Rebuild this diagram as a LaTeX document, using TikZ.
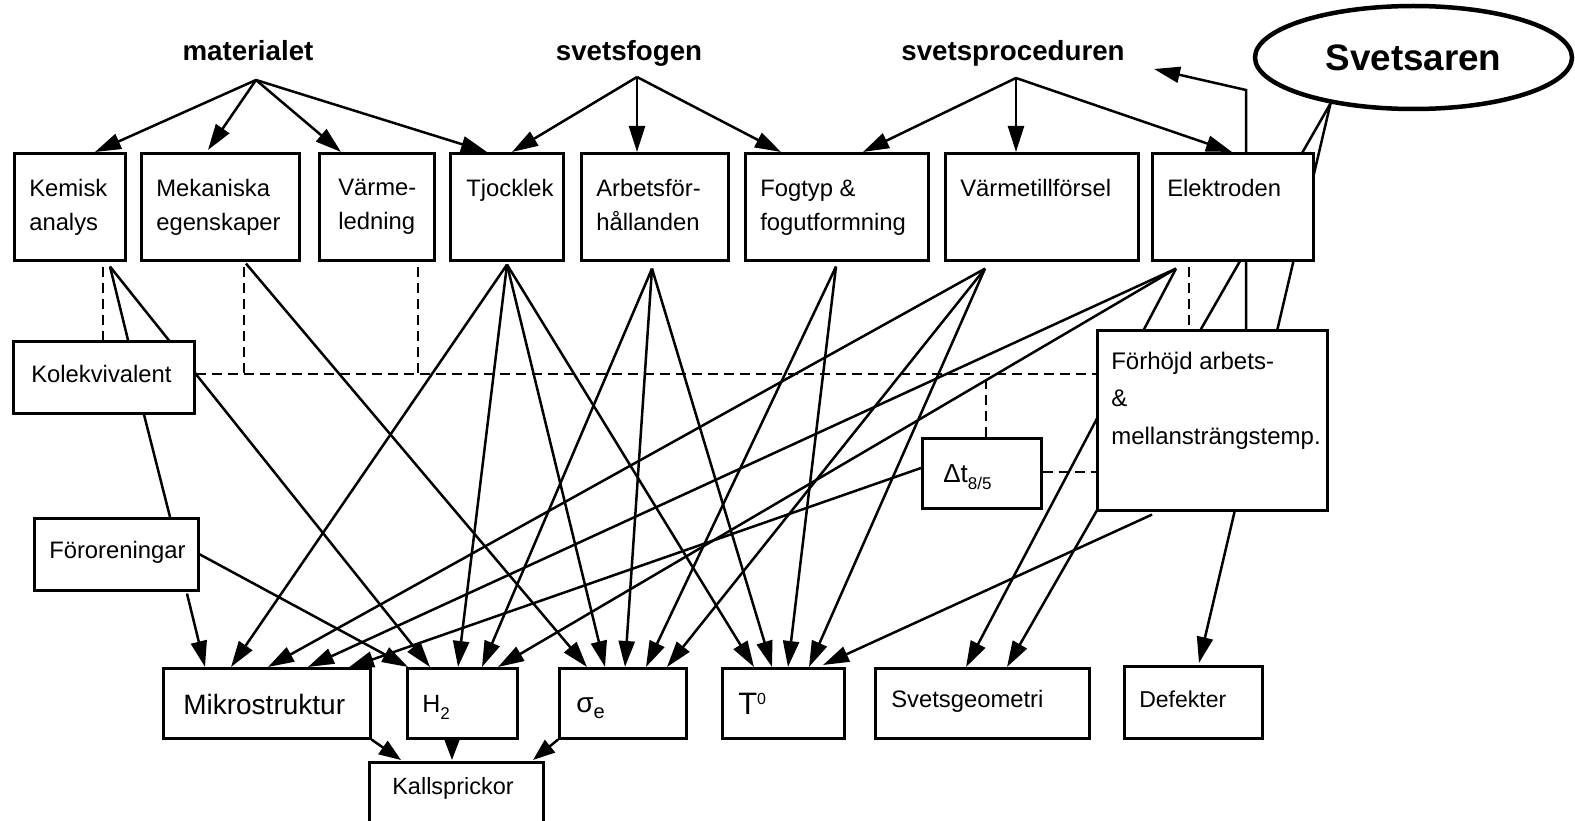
\documentclass[tikz,border=0pt]{standalone}
\usepackage{fontspec}
\setmainfont{Liberation Sans}
\usetikzlibrary{arrows.meta,calc,backgrounds,shapes.geometric}
\newcommand\bt[5]{\parbox[b][#2][t]{#1}{\raggedright\leftskip=#3\relax\rule{0pt}{#4}#5\par}}
\tikzset{
 box/.style={draw, line width=2.6pt, fill=white, inner sep=0pt, anchor=north west, font=\fontsize{23.8}{34}\selectfont},
 lab/.style={inner sep=0pt, anchor=base, font=\bfseries\fontsize{27.7}{33}\selectfont},
 conn/.style={line width=2.5pt},
 arr/.style={line width=2.5pt, -{Triangle[length=26pt,width=16pt]}},
 sarr/.style={line width=2.5pt, -{Triangle[length=22pt,width=16pt]}},
 dsh/.style={line width=2.5pt, dash pattern=on 10pt off 6pt},
}
\begin{document}
\begin{tikzpicture}[x=1pt,y=-1pt]
\useasboundingbox (0,0) rectangle (1575,821);
% labels
\node[lab] (mat) at (248,61) {materialet};
\node[lab] (fogen) at (629,61) {svetsfogen};
\node[lab] (proc) at (1013,61) {svetsproceduren};
\node[draw, ellipse, line width=4.5pt, fill=white, inner sep=0pt, minimum width=317pt, minimum height=103pt, font=\bfseries\fontsize{36.8}{40}\selectfont] (svets) at (1413.5,57.5) {Svetsaren};
% top row
\node[box] (kem) at (13,152) {\bt{111pt}{107pt}{15pt}{43pt}{Kemisk\\analys}};
\node[box] (mek) at (140,152) {\bt{158pt}{107pt}{15pt}{43pt}{Mekaniska\\egenskaper}};
\node[box] (varm) at (318,152) {\bt{115pt}{107pt}{19pt}{42pt}{Värme-\\ledning}};
\node[box] (tjock) at (449,152) {\bt{113pt}{107pt}{16pt}{43pt}{Tjocklek}};
\node[box] (arb) at (580,152) {\bt{147pt}{107pt}{15pt}{43pt}{Arbetsför-\\hållanden}};
\node[box] (fog) at (744,152) {\bt{183pt}{107pt}{15pt}{43pt}{Fogtyp \&\\fogutformning}};
\node[box] (varmt) at (944,152) {\bt{193pt}{107pt}{15pt}{43pt}{Värmetillförsel}};
\node[box] (elek) at (1151,152) {\bt{161pt}{107pt}{15pt}{43pt}{Elektroden}};
% middle
\node[box] (kol) at (12,340) {\bt{181pt}{72pt}{18pt}{41pt}{Kolekvivalent}};
\node[box] (foro) at (33,517) {\bt{164pt}{72pt}{15pt}{40pt}{Föroreningar}};
\node[box] (dt) at (921,437) {\bt{119pt}{70pt}{21pt}{44pt}{\fontsize{26}{30}\selectfont Δt\raisebox{-7pt}{\fontsize{17}{20}\selectfont 8/5}}};
\node[box, font=\fontsize{24}{37.5}\selectfont] (forh) at (1096,329) {\bt{230pt}{180pt}{14pt}{39pt}{Förhöjd arbets-\\\&\\mellansträngstemp.}};
% bottom
\node[box] (mikro) at (162,667) {\bt{207pt}{70pt}{20pt}{46pt}{\fontsize{28}{32}\selectfont Mikrostruktur}};
\node[box] (h2) at (406,667) {\bt{110pt}{70pt}{15pt}{44pt}{\fontsize{25}{30}\selectfont H\raisebox{-7pt}{\fontsize{17}{20}\selectfont 2}}};
\node[box] (sig) at (558,667) {\bt{127pt}{70pt}{17pt}{44pt}{\fontsize{28}{32}\selectfont σ\raisebox{-6pt}{\fontsize{20}{24}\selectfont e}}};
\node[box] (t0) at (721,667) {\bt{122pt}{70pt}{16pt}{46pt}{\fontsize{31}{34}\selectfont T\raisebox{10pt}{\fontsize{16}{18}\selectfont 0}}};
\node[box] (sgeo) at (874,667) {\bt{214pt}{70pt}{16pt}{39pt}{Svetsgeometri}};
\node[box] (def) at (1123,665) {\bt{138pt}{72pt}{15pt}{41pt}{\fontsize{23}{28}\selectfont Defekter}};
\node[box] (kall) at (368,761) {\bt{174pt}{75pt}{23pt}{32pt}{\fontsize{23.5}{28}\selectfont Kallsprickor}};

\begin{pgfonlayer}{background}
% top fans
\draw ($(mat.base)+(8,19)$) edge[arr] ($(kem.north west)+(82,0)$)
  edge[arr] ($(mek.north west)+(68,-2)$)
  edge[arr] ($(varm.north west)+(23,0)$)
  edge[arr] ($(tjock.north west)+(38,0)$);
\draw ($(fogen.base)+(8,16)$) edge[arr] ($(tjock.north west)+(63,0)$)
  edge[arr] ($(arb.north west)+(57,0)$)
  edge[arr] ($(fog.north west)+(37,0)$);
\draw ($(proc.base)+(3,17)$) edge[arr] ($(fog.north west)+(119,0)$)
  edge[arr] ($(varmt.north west)+(72,0)$)
  edge[arr] ($(elek.north west)+(81,0)$);
% Kemisk
\draw[dsh] ($(kem.south west)+(90,5)$) -- ($(kol.north west)+(91,0)$);
\draw[conn] ($(kem.south west)+(97,5)$) -- ($(kol.north west)+(116,0)$);
\draw[arr] ($(kem.south west)+(97,5)$) -- ($(h2.north west)+(24,0)$);
% Mekaniska, Varme dashed
\draw[dsh] ($(mek.south west)+(104,5)$) -- ($(mek.south west)+(104,115)$);
\draw[dsh] ($(varm.south west)+(100,5)$) -- ($(varm.south west)+(100,115)$);
\draw[dsh] ($(kol.north east)+(0,34)$) -- ($(forh.north west)+(0,45)$);
\draw[arr] ($(mek.south west)+(106,2)$) -- ($(sig.north west)+(29,0)$);
% Tjocklek
\draw ($(tjock.south west)+(58,3)$) edge[arr] ($(mikro.north west)+(69,0)$)
  edge[arr] ($(h2.north west)+(52,0)$)
  edge[arr] ($(sig.north west)+(47,0)$)
  edge[arr] ($(t0.north west)+(33,0)$);
% Arbetsforhallanden
\draw ($(arb.south west)+(72,7)$) edge[arr] ($(h2.north west)+(76,0)$)
  edge[arr] ($(sig.north west)+(67,0)$)
  edge[arr] ($(t0.north west)+(51,0)$);
% Fogtyp
\draw ($(fog.south west)+(92,5)$) edge[arr] ($(sig.north west)+(88,0)$)
  edge[arr] ($(t0.north west)+(67,0)$);
% Varmetillforsel
\draw ($(varmt.south west)+(41,7)$) edge[arr] ($(mikro.north west)+(106,0)$)
  edge[arr] ($(sig.north west)+(109,0)$)
  edge[arr] ($(t0.north west)+(88,0)$);
% Elektroden
\draw ($(elek.south west)+(25,7)$) edge[arr] ($(mikro.north west)+(146,0)$)
  edge[arr] ($(h2.north west)+(92,0)$)
  edge[arr] ($(sgeo.north west)+(92,0)$);
\draw[dsh] ($(elek.south west)+(38,5)$) -- ($(forh.north west)+(93,0)$);
% Svetsaren
\draw (svets.209.5) edge[arr] ($(def.north west)+(76,-2)$)
  edge[arr] ($(sgeo.north west)+(133,0)$);
% Forhojd
\draw[arr] ($(forh.north west)+(150,0)$) -- ++(0,-239) -- ($(proc.base)+(141,8)$);
\draw[arr] ($(forh.south west)+(56,3)$) -- ($(t0.north west)+(102,-2)$);
\draw[dsh] ($(dt.north east)+(0,35)$) -- ($(forh.north west)+(0,143)$);
% Delta t
\draw[dsh] ($(dt.north west)+(65,0)$) -- ($(dt.north west)+(65,-63)$);
\draw[arr] ($(dt.north west)+(0,31)$) -- ($(mikro.north west)+(186,1)$);
% Kolekvivalent, Fororeningar
\draw[conn] ($(kol.south west)+(132,0)$) -- ($(foro.north west)+(137,0)$);
\draw[arr] ($(foro.south west)+(154,2)$) -- ($(mikro.north west)+(43,0)$);
\draw[arr] (foro.east) -- ($(h2.north west)+(2,0)$);
% to Kallsprickor
\draw[sarr] (mikro.south east) -- ($(kall.north west)+(33,-1)$);
\draw[sarr] ($(h2.south west)+(46,0)$) -- ($(kall.north west)+(84,-1)$);
\draw[sarr] (sig.south west) -- ($(kall.north west)+(165,-1)$);
\end{pgfonlayer}
\end{tikzpicture}
\end{document}
